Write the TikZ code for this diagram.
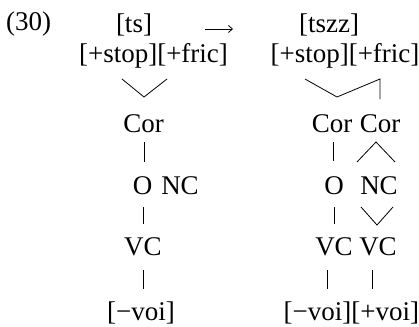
\documentclass[tikz,border=0pt]{standalone}
\usepackage{fontspec}
\usetikzlibrary{arrows.meta}
\setmainfont{Liberation Serif}
\begin{document}
\begin{tikzpicture}[x=1pt,y=-1pt,
  lbl/.style={anchor=base,inner sep=0pt,font=\fontsize{27}{30}\selectfont},
  link/.style={line width=0.8pt},
  derives/.style={line width=0.8pt,-{Straight Barb[length=4pt,width=7pt]}}]
\useasboundingbox (0,0) rectangle (419,326);

% example number and the two top segments
\node[lbl,anchor=base west] (num) at (6,31) {(30)};
\node[lbl] (tsL) at (134,33) {[ts]};
\node[lbl] (tsR) at (329,33) {[tszz]};

% derivation arrow between the two segments
\coordinate (arrA) at (205,29);
\coordinate (arrB) at (233,29);
\draw[derives] (arrA) -- (arrB);

% left tree: [ts]
\node[lbl] (featL) at (153.5,63) {[+stop][+fric]};
\node[lbl] (corL) at (143.5,132) {Cor};
\node[lbl] (oL) at (142.5,194) {O};
\node[lbl] (ncL) at (180,194) {NC};
\node[lbl] (vcL) at (143,255) {VC};
\node[lbl] (voiL) at (141,320) {[−voi]};

% right tree: [tszz]
\node[lbl] (featR) at (345,63) {[+stop][+fric]};
\node[lbl] (corRa) at (332,132) {Cor};
\node[lbl] (corRb) at (380,132) {Cor};
\node[lbl] (oR) at (334,194) {O};
\node[lbl] (ncR) at (379,194) {NC};
\node[lbl] (vcRa) at (334,255) {VC};
\node[lbl] (vcRb) at (378,255) {VC};
\node[lbl] (voiRa) at (317.5,320) {[−voi]};
\node[lbl] (voiRb) at (385.2,320) {[+voi]};

% association line end points, left tree
\coordinate (vLa) at (122,79);
\coordinate (vLb) at (144,97);
\coordinate (vLc) at (167,79);
\coordinate (l1a) at (144,142); \coordinate (l1b) at (144,162);
\coordinate (l2a) at (143,207); \coordinate (l2b) at (143,224);
\coordinate (l3a) at (143,270); \coordinate (l3b) at (143,289);

% association line end points, right tree
\coordinate (vRa) at (305,79);
\coordinate (vRb) at (337,97);
\coordinate (vRc) at (380,79);
\coordinate (vRd) at (380,99);
\coordinate (r1a) at (333,142); \coordinate (r1b) at (333,161);
\coordinate (caL) at (357,162); \coordinate (caT) at (376,142); \coordinate (caR) at (395,162);
\coordinate (r2a) at (334,207); \coordinate (r2b) at (334,224);
\coordinate (cvL) at (361,207); \coordinate (cvB) at (377,225); \coordinate (cvR) at (393,207);
\coordinate (r3a) at (327,270); \coordinate (r3b) at (327,289);
\coordinate (r4a) at (372,270); \coordinate (r4b) at (372,289);

% left tree lines
\draw[link] (vLa) -- (vLb) -- (vLc);
\draw[link] (l1a) -- (l1b);
\draw[link] (l2a) -- (l2b);
\draw[link] (l3a) -- (l3b);

% right tree lines
\draw[link] (vRa) -- (vRb) -- (vRc) -- (vRd);
\draw[link] (r1a) -- (r1b);
\draw[link] (caL) -- (caT) -- (caR);
\draw[link] (r2a) -- (r2b);
\draw[link] (cvL) -- (cvB) -- (cvR);
\draw[link] (r3a) -- (r3b);
\draw[link] (r4a) -- (r4b);
\end{tikzpicture}
\end{document}
